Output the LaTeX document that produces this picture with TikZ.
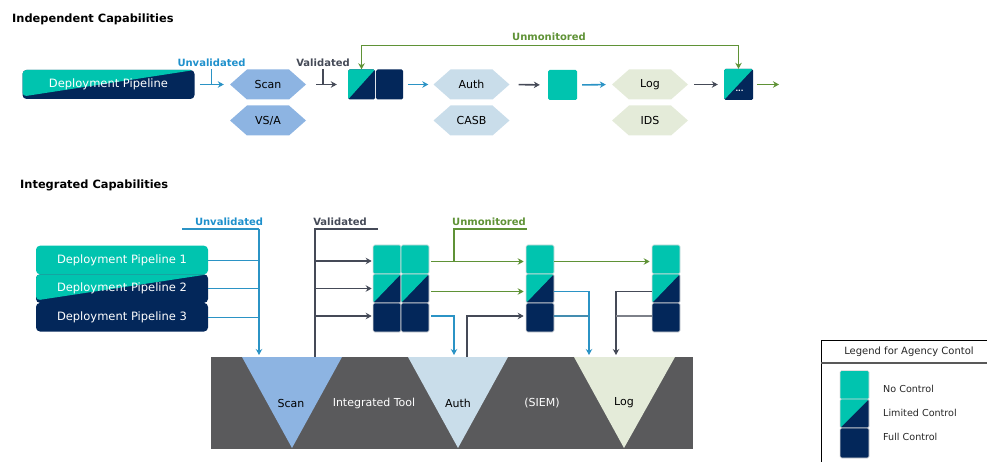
\documentclass[tikz,border=0pt]{standalone}
\usepackage{fontspec}
\setmainfont{DejaVu Sans}
\usetikzlibrary{arrows.meta,calc}

\definecolor{cteal}{HTML}{00C4AF}
\definecolor{cnavy}{HTML}{03275A}
\definecolor{cblue}{HTML}{2B93C5}
\definecolor{cbluetxt}{HTML}{1E90CC}
\definecolor{cdark}{HTML}{454A57}
\definecolor{cgreen}{HTML}{5F9236}
\definecolor{chexa}{HTML}{8DB4E2}
\definecolor{chexb}{HTML}{C9DDEA}
\definecolor{chexc}{HTML}{E4EBD9}
\definecolor{cbar}{HTML}{5A5A5C}

\begin{document}
\begin{tikzpicture}[x=1pt,y=-1pt,
  head/.style={font=\fontsize{11.4}{13}\selectfont\bfseries, anchor=base west, inner sep=0},
  flowlbl/.style={font=\fontsize{10}{12}\selectfont\bfseries, inner sep=0},
  pipe/.style={rounded corners=4, minimum width=172, minimum height=29, inner sep=0,
    text=white, font=\fontsize{11.5}{13}\selectfont},
  splitpipe/.style={pipe, fill=cnavy, path picture={\fill[cteal]
    (path picture bounding box.north west) -- (path picture bounding box.north east)
    -- ([yshift=2.5pt]path picture bounding box.south west) -- cycle;}},
  sq/.style={minimum width=28, minimum height=29, inner sep=0, rounded corners=1.5},
  nocon/.style={sq, fill=cteal},
  fullcon/.style={sq, fill=cnavy},
  limcon/.style={sq, fill=cnavy, path picture={\fill[cteal]
    (path picture bounding box.north west) -- (path picture bounding box.north east)
    -- (path picture bounding box.south west) -- cycle;}},
  stackbox/.style={draw=white!75!gray, line width=0.6},
  hexa/.style={minimum width=76, minimum height=30, inner sep=0,
    font=\fontsize{11}{13}\selectfont, path picture={\fill[#1]
    (path picture bounding box.west)
    -- ([xshift=17pt]path picture bounding box.north west)
    -- ([xshift=-17pt]path picture bounding box.north east)
    -- (path picture bounding box.east)
    -- ([xshift=-17pt]path picture bounding box.south east)
    -- ([xshift=17pt]path picture bounding box.south west) -- cycle;}},
  arr/.style={-{Stealth[length=6pt,width=6.5pt]}, line width=1.6},
  feed/.style={line width=1.2},
  bartxt/.style={font=\fontsize{11}{13}\selectfont, inner sep=0},
  legtxt/.style={font=\fontsize{9.6}{12}\selectfont, anchor=west, inner sep=0, text=black!85}
]
\useasboundingbox (0,0) rectangle (987,462);

% ---------------- Independent capabilities ----------------
\node[head] (title1) at (12,22.5) {Independent Capabilities};

\node[splitpipe] (dp) at (108.5,84.5) {Deployment Pipeline};

\node[hexa=chexa] (scan) at (268,84.5) {Scan};
\node[hexa=chexa] (vsa) at (268,120.5) {VS/A};

\node[limcon, minimum width=27, minimum height=30] (v1) at (361.5,84.5) {};
\node[fullcon, minimum width=27, minimum height=30] (v2) at (389.5,84.5) {};

\node[hexa=chexb] (auth) at (471.5,84.5) {Auth};
\node[hexa=chexb] (casb) at (471.5,120.5) {CASB};

\node[nocon, minimum width=29, minimum height=30] (mid) at (562.5,85) {};

\node[hexa=chexc] (log) at (650,84.5) {Log};
\node[hexa=chexc] (ids) at (650,120.5) {IDS};

\node[limcon, minimum width=29, minimum height=31] (dots) at (738.5,84.5) {};
\node[text=white, font=\fontsize{7}{7}\selectfont\bfseries, inner sep=0] (dotstxt)
  at ([xshift=1pt,yshift=-6.5pt]dots.center) {...};
\coordinate (outend) at (779,84.5);

% flow labels
\node[flowlbl, text=cbluetxt] (ulab1) at (211.5,63) {Unvalidated};
\node[flowlbl, text=cdark] (vlab1) at (323,63) {Validated};
\node[flowlbl, text=cgreen] (mlab1) at (549,37) {Unmonitored};

% connectors
\draw[arr, cblue, shorten <=5pt, shorten >=6pt] (dp.east) -- (scan.west);
\draw[cblue, line width=1.1] ([yshift=-2pt]ulab1.south) -- (ulab1.south |- dp.east);
\draw[arr, cdark, shorten <=10pt, shorten >=11pt] (scan.east) -- (v1.west);
\draw[cdark, line width=1.1] ([yshift=-2pt]vlab1.south) -- (vlab1.south |- scan.east);
\draw[arr, cblue, shorten <=5pt, shorten >=5pt] (v2.east) -- (auth.west);
\draw[arr, cdark, shorten <=9pt, shorten >=8pt] (auth.east) -- (mid.west);
\draw[arr, cblue, shorten <=5pt, shorten >=6pt] (mid.east) -- (log.west);
\draw[arr, cdark, shorten <=6pt, shorten >=6pt] (log.east) -- (dots.west);
\draw[arr, cgreen, shorten <=4pt] (dots.east) -- (outend);
\draw[cgreen, line width=1.3, {Stealth[length=6pt,width=6.5pt]}-{Stealth[length=6pt,width=6.5pt]}]
  (v1.north) -- ++(0,-24) -| (dots.north);

% ---------------- Integrated capabilities ----------------
\node[head] (title2) at (20,189) {Integrated Capabilities};

\node[pipe, fill=cteal, minimum height=28.6] (p1) at (122,260) {Deployment Pipeline 1};
\node[splitpipe, minimum height=28.6] (p2) at (122,288.6) {Deployment Pipeline 2};
\node[pipe, fill=cnavy, minimum height=28.6] (p3) at (122,317.2) {Deployment Pipeline 3};

% integrated tool bar
\node[fill=cbar, minimum width=482, minimum height=92, inner sep=0, anchor=north west]
  (bar) at (211,357) {};
\fill[chexa] (242,357) -- (342,357) -- (292,448) -- cycle;
\fill[chexb] (408,357) -- (508,357) -- (458,448) -- cycle;
\fill[chexc] (574,357) -- (675,357) -- (624,448) -- cycle;
\node[bartxt] (tscan) at (291,403) {Scan};
\node[bartxt, text=white] (ttool) at (374,403) {Integrated Tool};
\node[bartxt] (tauth) at (458,403) {Auth};
\node[bartxt, text=white] (tsiem) at (542,403) {(SIEM)};
\node[bartxt] (tlog) at (624,403) {Log};

% control stacks
\foreach \c/\x in {a/387, b/415} {
  \node[nocon, stackbox] (s1\c1) at (\x,259.5) {};
  \node[limcon, stackbox] (s1\c2) at (\x,288.5) {};
  \node[fullcon, stackbox] (s1\c3) at (\x,317.5) {};
}
\node[nocon, stackbox] (s21) at (540,259.5) {};
\node[limcon, stackbox] (s22) at (540,288.5) {};
\node[fullcon, stackbox] (s23) at (540,317.5) {};
\node[nocon, stackbox] (s31) at (666,259.5) {};
\node[limcon, stackbox] (s32) at (666,288.5) {};
\node[fullcon, stackbox] (s33) at (666,317.5) {};

% flow labels
\node[flowlbl, text=cbluetxt] (ulab2) at (229,222) {Unvalidated};
\node[flowlbl, text=cdark] (vlab2) at (340,222) {Validated};
\node[flowlbl, text=cgreen] (mlab2) at (489,222) {Unmonitored};

\coordinate (ul) at (182,229);
\coordinate (ub) at (259,229);
\coordinate (vb) at (315,229);
\coordinate (vr) at (378,229);
\coordinate (mb) at (454,229);
\coordinate (mr) at (527,229);
\coordinate (authout) at (467,357);
\coordinate (logblue) at (589,357);
\coordinate (logdark) at (616,357);

% unvalidated feed into scan
\draw[cblue, feed] (ul) -- (ub);
\draw[arr, cblue, line width=1.2, shorten >=2pt] (ub) -- (ub |- bar.north);
\draw[cblue, line width=1] (p1.east) -- (p1.east -| ub);
\draw[cblue, line width=1.4] (p2.east) -- (p2.east -| ub);
\draw[cblue, line width=1.4] (p3.east) -- (p3.east -| ub);

% validated output of scan
\draw[cdark, line width=2] (vr) -- (vb) -- (vb |- bar.north);
\foreach \r/\dy in {1/-1.5pt, 2/0pt, 3/1.5pt}
  \draw[arr, cdark, line width=1.2, shorten >=1pt]
    ([yshift=\dy]vb |- s1a\r.west) -- ([yshift=\dy]s1a\r.west);

% unmonitored paths
\draw[cgreen, feed] (mr) -- (mb) -- ([yshift=-2pt]mb |- s1b1.east);
\draw[arr, cgreen, shorten <=2pt, shorten >=2pt] ([yshift=-2pt]s1b1.east) -- ([yshift=-2pt]s21.west);
\draw[arr, cgreen, shorten >=2pt] ([yshift=-2pt]s21.east) -- ([yshift=-2pt]s31.west);
\draw[arr, cgreen, shorten <=2pt, shorten >=2pt] ([yshift=-3pt]s1b2.east) -- ([yshift=-3pt]s22.west);

% into auth and back
\draw[arr, cblue, shorten <=2pt, shorten >=2pt] ([yshift=1.5pt]s1b3.east) -| (mb |- bar.north);
\draw[arr, cdark, line width=1.2, shorten >=2pt] (authout) |- ([yshift=1.5pt]s23.west);

% into log
\draw[arr, cblue, shorten >=2pt] ([yshift=-3pt]s22.east) -| (logblue);
\draw[cblue!70!gray, line width=1.2] ([yshift=1.5pt]s23.east) -- ([yshift=1.5pt]s23.east -| logblue);
\draw[arr, cdark, shorten >=2pt] ([yshift=-3pt]s32.west) -| (logdark);
\draw[cdark!70!white, line width=1.2] ([yshift=1.5pt]s33.west) -- ([yshift=1.5pt]s33.west -| logdark);

% ---------------- legend ----------------
\coordinate (lgtl) at (821,340);
\coordinate (lgtr) at (987,340);
\coordinate (lgbl) at (821,462);
\draw[black, line width=0.8] (lgbl) -- (lgtl) -- (lgtr);
\draw[gray!70!black, line width=1.6] (821,363) -- (987,363);
\node[font=\fontsize{10}{12}\selectfont, text=black!85, inner sep=0] (legtitle) at (909,352)
  {Legend for Agency Contol};
\node[nocon, stackbox, minimum width=29] (lg1) at (854.5,385) {};
\node[limcon, stackbox, minimum width=29] (lg2) at (854.5,413.5) {};
\node[fullcon, stackbox, minimum width=29, minimum height=30] (lg3) at (854.5,443) {};
\node[legtxt] (lt1) at (883,389) {No Control};
\node[legtxt] (lt2) at (883,413) {Limited Control};
\node[legtxt] (lt3) at (883,437) {Full Control};
\end{tikzpicture}
\end{document}
